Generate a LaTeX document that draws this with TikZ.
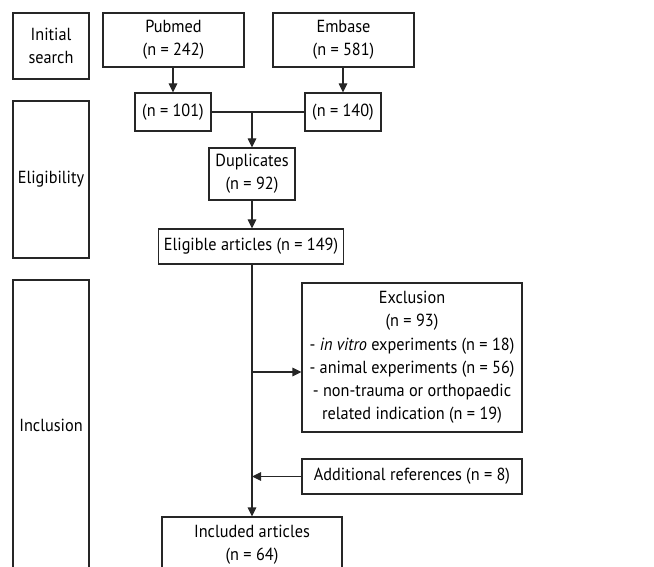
\documentclass[tikz,border=0pt]{standalone}
\usepackage{fontspec}
\setmainfont[FakeStretch=0.93]{PT Sans}
\usetikzlibrary{arrows.meta}
\tikzset{
  box/.style={draw=black!85, line width=1.1pt, rectangle, inner sep=0pt, align=center, font=\fontsize{17.5}{23.2}\selectfont},
  conn/.style={draw=black!85, line width=1.1pt},
  arr/.style={conn, -{Triangle[length=9pt,width=8.5pt]}}
}
\begin{document}
\begin{tikzpicture}[x=1pt,y=-1pt]
\useasboundingbox (0,0) rectangle (654,567);
\clip (0,0) rectangle (654,567);
\node[box, minimum width=76pt, minimum height=66pt] (init) at (51,46) {Initial\\search};
\node[box, minimum width=141pt, minimum height=54pt] (pub) at (173.5,40) {Pubmed\\(n = 242)};
\node[box, minimum width=141pt, minimum height=54pt] (emb) at (343.5,40) {Embase\\(n = 581)};
\node[box, minimum width=76pt, minimum height=38pt] (p1) at (173,112) {(n = 101)};
\node[box, minimum width=76pt, minimum height=38pt] (e1) at (343,112) {(n = 140)};
\node[box, minimum width=86pt, minimum height=52pt] (dup) at (252,174) {Duplicates\\(n = 92)};
\node[box, minimum width=76pt, minimum height=157pt] (elig) at (51,179.5) {Eligibility};
\node[box, minimum width=185pt, minimum height=35pt] (ea) at (251,246.5) {Eligible articles (n = 149)};
\node[box, minimum width=76pt, minimum height=290pt] (incl) at (51,425) {Inclusion};
\node[box, minimum width=220pt, minimum height=149pt] (exc) at (412,357.5) {Exclusion\\(n = 93)\\- \textit{in vitro} experiments (n = 18)\\- animal experiments (n = 56)\\- non-trauma or orthopaedic\\related indication (n = 19)};
\node[box, minimum width=220pt, minimum height=35pt] (add) at (412,476.5) {Additional references (n = 8)};
\node[box, minimum width=180pt, minimum height=56pt] (inc) at (252,545) {Included articles\\(n = 64)};
\draw[arr] (pub.south -| p1) -- (p1.north);
\draw[arr] (emb.south -| e1) -- (e1.north);
\draw[conn] (p1.east) -- (e1.west);
\coordinate (j1) at (p1.east -| dup.north);
\draw[arr] (j1) -- (dup.north);
\draw[arr] (dup.south) -- (dup.south |- ea.north);
\coordinate (j2) at (252,372);
\draw[arr] (j2) -- (exc.west |- j2);
\coordinate (j3) at (add.west -| inc.north);
\draw[arr] (add.west) -- (j3);
\draw[arr] (dup.south |- ea.south) -- (inc.north);
\end{tikzpicture}
\end{document}
